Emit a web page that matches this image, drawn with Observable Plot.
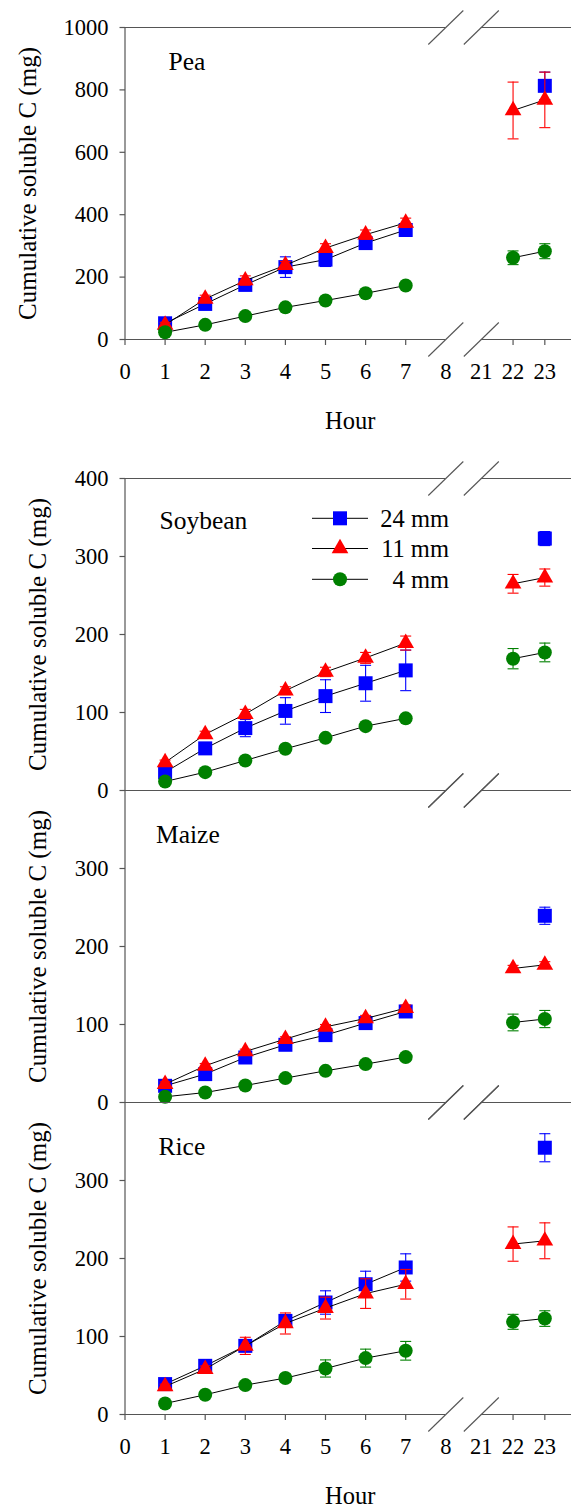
<!DOCTYPE html>
<html>
<head>
<meta charset="utf-8">
<script src="https://cdn.jsdelivr.net/npm/d3@7"></script>
<script src="https://cdn.jsdelivr.net/npm/@observablehq/plot@0.6"></script>
<style>
html, body { margin: 0; padding: 0; background: #fff; }
#chart { position: relative; width: 571px; height: 1508px; overflow: hidden; background: #fff; }
#chart svg { position: absolute; left: 0; }
</style>
</head>
<body>
<div id="chart"></div>
<script>
// ---------- data ----------
const hours = [1, 2, 3, 4, 5, 6, 7, 22, 23];
const sizeLabels = ["24 mm", "11 mm", "4 mm"];
const sizeColors = ["#0000ff", "#ff0000", "#008000"];
const sizeSymbols = ["square", "triangle", "circle"];
const sizeRadii = [7.9, 6.2, 7];

const xTickLabels = [0, 1, 2, 3, 4, 5, 6, 7, 8, 21, 22, 23];
const xTickMarks = [0, 1, 2, 3, 4, 5, 6, 7, 22, 23];
const axisBreaks = [8, 21];

const peaYTicks = [0, 200, 400, 600, 800, 1000];
const soyYTicks = [0, 100, 200, 300, 400];
const maizeYTicks = [0, 100, 200, 300];
const riceYTicks = [0, 100, 200, 300];

const cropNames = ["Pea", "Soybean", "Maize", "Rice"];
const yTitle = "Cumulative soluble C (mg)";
const xTitle = "Hour";

// Pea
const pea24 = [52, 114, 175, 232, 256, 309, 351, null, 813];
const pea24Err = [10, 12, 12, 33, 22, 18, 20, null, 44];
const pea11 = [47, 130, 189, 238, 293, 336, 374, 734, 768];
const pea11Err = [8, 12, 15, 12, 14, 15, 15, 91, 89];
const pea4 = [23, 47, 75, 103, 125, 148, 173, 262, 283];
const pea4Err = [4, 5, 6, 6, 8, 8, 8, 22, 24];

// Soybean
const soy24 = [23.5, 54, 80, 102, 121, 137.5, 154, null, 323];
const soy24Err = [4, 5, 11, 17, 21, 23, 26, null, 9];
const soy11 = [36, 72, 98, 128, 152, 170, 189, 265, 273];
const soy11Err = [3, 4, 6, 5, 6, 7, 9, 12, 11];
const soy4 = [11.5, 23.5, 38.5, 53.5, 67.5, 82.5, 92.5, 169, 177];
const soy4Err = [2, 2, 3, 3, 4, 4, 4, 13, 12];

// Maize
const maize24 = [21.4, 36.4, 57.7, 74, 86.4, 101.8, 116.7, null, 239.4];
const maize24Err = [3, 3, 3, 3, 4, 4, 5, null, 11];
const maize11 = [23.5, 47, 65.4, 81.3, 97, 107.7, 121, 171.8, 176.5];
const maize11Err = [3, 3, 3, 3, 3, 4, 4, 4, 4];
const maize4 = [7.3, 12.8, 21.8, 31.3, 40.6, 49.2, 58.2, 102.6, 107];
const maize4Err = [1, 1, 2, 2, 2, 2, 3, 10.7, 11];

// Rice
const rice24 = [39, 62.4, 88, 120, 143.6, 167, 188.5, null, 342];
const rice24Err = [3, 4, 5, 6, 15, 16.7, 17.5, null, 18];
const rice11 = [35.9, 58.2, 88, 116.7, 136.4, 155, 167, 218.5, 222.7];
const rice11Err = [3, 4, 11, 13.5, 14, 19, 19, 22, 23];
const rice4 = [14.1, 25.3, 37.7, 46.7, 59, 72.3, 81.7, 118.8, 123];
const rice4Err = [2, 3, 4, 5, 11, 11.5, 12, 9.6, 10];

// ---------- drawing ----------
const FONT = "'Liberation Serif', 'Times New Roman', Times, serif";
const AX = "#555";
const xDomain = [0, 8, 21, 23.84];
const xRange = [124.5, 445.3, 480.8, 571];
const PLOT_H = 312;

const slashSymbol = {draw(ctx) { ctx.moveTo(-17.5, 17); ctx.lineTo(17.5, -17); }};
const yTickSymbol = {draw(ctx) { ctx.moveTo(-5.5, 0); ctx.lineTo(0, 0); }};
const xTickSymbol = {draw(ctx) { ctx.moveTo(0, 0); ctx.lineTo(0, 5.5); }};
const capSymbol = {draw(ctx) { ctx.moveTo(-5.5, 0); ctx.lineTo(5.5, 0); }};

function rows(means, errs) {
  return hours.map((h, i) => ({hour: h, value: means[i], err: errs[i], seg: h > 8 ? "late" : "early"}))
    .filter(d => d.value != null);
}

function panel(cfg) {
  const {name, yMax, yTicks, series, top, marginTop, marginBottom, xAxis, titleDx, nameDx, nameDy} = cfg;
  const xMax = xDomain[xDomain.length - 1];
  const marks = [];
  // frame with breaks
  marks.push(Plot.ruleX([0], {y1: 0, y2: yMax, stroke: AX, strokeWidth: 1.2}));
  for (const yv of [0, yMax]) {
    marks.push(Plot.ruleY([yv], {x1: 0, x2: axisBreaks[0], stroke: AX, strokeWidth: 1.2}));
    marks.push(Plot.ruleY([yv], {x1: axisBreaks[1], x2: xMax, stroke: AX, strokeWidth: 1.2}));
  }
  marks.push(Plot.dot(axisBreaks.flatMap(b => [[b, 0], [b, yMax]]),
    {x: d => d[0], y: d => d[1], symbol: slashSymbol, stroke: AX, fill: "none", strokeWidth: 1.1}));
  // y ticks + labels
  marks.push(Plot.dot(yTicks, {x: 0, y: d => d, symbol: yTickSymbol, stroke: AX, fill: "none", strokeWidth: 1.2}));
  marks.push(Plot.text(yTicks, {x: 0, y: d => d, text: d => String(d), textAnchor: "end", dx: -16.5,
    lineAnchor: "middle", fontSize: 22.5, fontFamily: FONT, fill: "black"}));
  // x ticks + labels
  if (xAxis) {
    marks.push(Plot.dot(xTickMarks, {x: d => d, y: 0, symbol: xTickSymbol, stroke: AX, fill: "none", strokeWidth: 1.2}));
    marks.push(Plot.text(xTickLabels, {x: d => d, y: 0, text: d => String(d), dy: 39, lineAnchor: "bottom",
      fontSize: 22.5, fontFamily: FONT, fill: "black"}));
    marks.push(Plot.text([xTitle], {text: d => d, frameAnchor: "bottom", dy: 89, dx: 2, lineAnchor: "bottom",
      fontSize: 24.5, fontFamily: FONT, fill: "black"}));
  }
  // y title
  marks.push(Plot.text([yTitle], {text: d => d, frameAnchor: "left", dx: titleDx, rotate: -90,
    lineAnchor: "middle", textAnchor: "middle", fontSize: 25, fontFamily: FONT, fill: "black"}));
  // crop name
  marks.push(Plot.text([name], {text: d => d, frameAnchor: "top-left", dx: nameDx, dy: nameDy,
    textAnchor: "start", lineAnchor: "bottom", fontSize: 25.5, fontFamily: FONT, fill: "black"}));
  // series
  series.forEach((data, k) => {
    const color = sizeColors[k];
    marks.push(Plot.line(data, {x: "hour", y: "value", z: "seg", stroke: "black", strokeWidth: 1}));
    marks.push(Plot.ruleX(data, {x: "hour", y1: d => d.value - d.err, y2: d => d.value + d.err, stroke: color, strokeWidth: 1.1}));
    marks.push(Plot.dot(data, {x: "hour", y: d => d.value - d.err, symbol: capSymbol, stroke: color, fill: "none", strokeWidth: 1.1}));
    marks.push(Plot.dot(data, {x: "hour", y: d => d.value + d.err, symbol: capSymbol, stroke: color, fill: "none", strokeWidth: 1.1}));
    marks.push(Plot.dot(data, {x: "hour", y: "value", symbol: sizeSymbols[k], r: sizeRadii[k], fill: color, stroke: "none"}));
  });
  const svg = Plot.plot({
    width: 571,
    height: marginTop + PLOT_H + marginBottom,
    marginLeft: xRange[0], marginRight: 0, marginTop, marginBottom,
    x: {type: "linear", domain: xDomain, range: xRange, axis: null},
    y: {type: "linear", domain: [0, yMax], axis: null},
    style: {background: "transparent", overflow: "visible", fontFamily: FONT, color: "black"},
    marks
  });
  svg.style.top = top + "px";
  svg.style.position = "absolute";
  svg.style.left = "0px";
  document.getElementById("chart").appendChild(svg);
}

panel({name: cropNames[0], yMax: 1000, yTicks: peaYTicks,
  series: [rows(pea24, pea24Err), rows(pea11, pea11Err), rows(pea4, pea4Err)],
  top: 0, marginTop: 27, marginBottom: 110, xAxis: true, titleDx: -97.5, nameDx: 43.5, nameDy: 42});
panel({name: cropNames[1], yMax: 400, yTicks: soyYTicks,
  series: [rows(soy24, soy24Err), rows(soy11, soy11Err), rows(soy4, soy4Err)],
  top: 448, marginTop: 30, marginBottom: 20, xAxis: false, titleDx: -87.5, nameDx: 34.5, nameDy: 50.3});
panel({name: cropNames[2], yMax: 400, yTicks: maizeYTicks,
  series: [rows(maize24, maize24Err), rows(maize11, maize11Err), rows(maize4, maize4Err)],
  top: 770, marginTop: 20, marginBottom: 20, xAxis: false, titleDx: -87.5, nameDx: 31, nameDy: 52.7});
panel({name: cropNames[3], yMax: 400, yTicks: riceYTicks,
  series: [rows(rice24, rice24Err), rows(rice11, rice11Err), rows(rice4, rice4Err)],
  top: 1082, marginTop: 20, marginBottom: 94, xAxis: true, titleDx: -87.5, nameDx: 33.5, nameDy: 52});

// legend (inside the Soybean panel)
const legRowsY = [518.3, 548.5, 579.3];
const leg = d3.select("#chart").append("svg")
  .attr("width", 571).attr("height", 1508)
  .style("top", "0px").style("left", "0px").style("position", "absolute")
  .style("overflow", "visible");
const symType = {square: d3.symbolSquare, triangle: d3.symbolTriangle, circle: d3.symbolCircle};
sizeLabels.forEach((lab, k) => {
  const y = legRowsY[k];
  const g = leg.append("g");
  g.append("line").attr("x1", 312).attr("x2", 368).attr("y1", y).attr("y2", y)
    .attr("stroke", "black").attr("stroke-width", 1);
  g.append("path").attr("transform", `translate(340,${y})`)
    .attr("d", d3.symbol(symType[sizeSymbols[k]], Math.PI * sizeRadii[k] * sizeRadii[k])())
    .attr("fill", sizeColors[k]);
  g.append("text").attr("x", 449).attr("y", y + 8.4).attr("text-anchor", "end")
    .attr("font-family", FONT).attr("font-size", 24.5).attr("fill", "black").text(lab);
});
</script>
</body>
</html>
